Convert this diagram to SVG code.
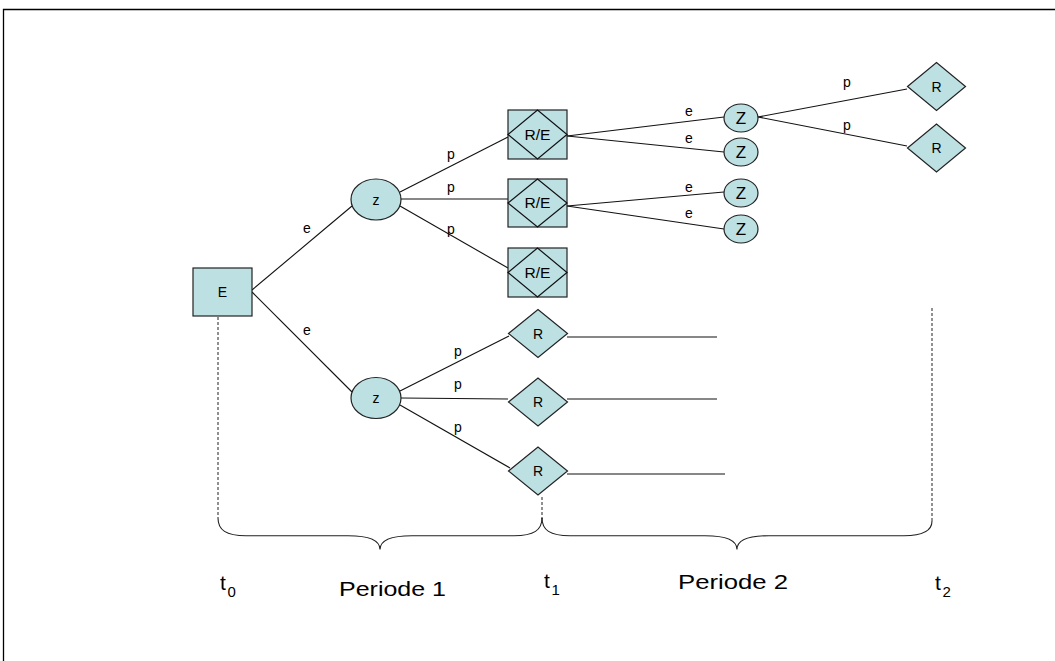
<svg xmlns="http://www.w3.org/2000/svg" width="1055" height="661" viewBox="0 0 1055 661">
  <style>
    text { font-family: "Liberation Sans", Arial, sans-serif; fill: #000; }
    .node { fill: #bde0e3; stroke: #222; stroke-width: 1.2; }
    .diam { fill: none; stroke: #111; stroke-width: 1.2; }
    .lbl { font-size: 14px; text-anchor: middle; }
    .big { font-size: 17px; text-anchor: middle; }
    .edge { font-size: 14px; text-anchor: middle; }
    .conn line { stroke: #111; stroke-width: 1.1; fill: none; }
    .dash { stroke: #222; stroke-width: 1; stroke-dasharray: 3 2; fill: none; }
    .brace { stroke: #222; stroke-width: 1.1; fill: none; }
    .axis { font-size: 21px; }
    .sub { font-size: 15px; }
  </style>

  <rect width="1055" height="661" fill="#fff"/>
  <!-- frame -->
  <path d="M3.5,661 V9.5 H1055" fill="none" stroke="#000" stroke-width="1.3"/>

  <!-- connectors -->
  <g id="connectors" class="conn">
    <line x1="252" y1="290" x2="352" y2="206"/>
    <line x1="252" y1="292" x2="352" y2="392"/>
    <line x1="400" y1="192" x2="508" y2="137"/>
    <line x1="401" y1="199" x2="508" y2="199"/>
    <line x1="400" y1="206" x2="508" y2="268"/>
    <line x1="400" y1="391" x2="509" y2="336"/>
    <line x1="401" y1="398" x2="508" y2="399"/>
    <line x1="400" y1="405" x2="510" y2="468"/>
    <line x1="567" y1="136" x2="724" y2="117"/>
    <line x1="567" y1="136" x2="724" y2="152"/>
    <line x1="567" y1="206" x2="724" y2="192"/>
    <line x1="567" y1="206" x2="724" y2="229"/>
    <line x1="758" y1="117" x2="907" y2="89"/>
    <line x1="758" y1="117" x2="907" y2="146"/>
    <line x1="567" y1="337" x2="717" y2="337"/>
    <line x1="567" y1="399" x2="717" y2="399"/>
    <line x1="567" y1="474" x2="725" y2="474"/>
  </g>

  <!-- connector labels -->
  <g id="edge-labels" class="edge">
    <text x="307" y="233">e</text>
    <text x="307" y="335">e</text>
    <text x="451" y="159">p</text>
    <text x="451" y="192">p</text>
    <text x="451" y="234">p</text>
    <text x="458" y="356">p</text>
    <text x="458" y="389">p</text>
    <text x="458" y="432">p</text>
    <text x="689" y="116">e</text>
    <text x="689" y="143">e</text>
    <text x="689" y="192">e</text>
    <text x="689" y="218">e</text>
    <text x="847" y="87">p</text>
    <text x="847" y="130">p</text>
  </g>

  <!-- root -->
  <g id="node-E">
    <rect class="node" x="193" y="268" width="59" height="48"/>
    <text class="lbl" x="222.5" y="297" font-size="15">E</text>
  </g>

  <!-- first level chance nodes -->
  <g id="node-z1">
    <ellipse class="node" cx="376" cy="199.5" rx="25" ry="20.5"/>
    <text class="lbl" x="376" y="204.5" font-size="16">z</text>
  </g>
  <g id="node-z2">
    <ellipse class="node" cx="376" cy="398" rx="25" ry="20.5"/>
    <text class="lbl" x="376" y="403" font-size="16">z</text>
  </g>

  <!-- R/E nodes -->
  <g id="node-RE1">
    <rect class="node" x="508" y="110" width="59" height="49"/>
    <polygon class="diam" points="508,134.5 537.5,110 567,134.5 537.5,159"/>
    <text class="lbl" x="537.5" y="139.5" textLength="26" lengthAdjust="spacingAndGlyphs">R/E</text>
  </g>
  <g id="node-RE2">
    <rect class="node" x="508" y="179" width="59" height="48"/>
    <polygon class="diam" points="508,203 537.5,179 567,203 537.5,227"/>
    <text class="lbl" x="537.5" y="208" textLength="26" lengthAdjust="spacingAndGlyphs">R/E</text>
  </g>
  <g id="node-RE3">
    <rect class="node" x="508" y="248" width="59" height="49"/>
    <polygon class="diam" points="508,272.5 537.5,248 567,272.5 537.5,297"/>
    <text class="lbl" x="537.5" y="277.5" textLength="26" lengthAdjust="spacingAndGlyphs">R/E</text>
  </g>

  <!-- second level chance nodes -->
  <g id="node-Z1">
    <ellipse class="node" cx="741" cy="118" rx="17" ry="14"/>
    <text class="big" x="741" y="124">Z</text>
  </g>
  <g id="node-Z2">
    <ellipse class="node" cx="741" cy="152" rx="17" ry="14"/>
    <text class="big" x="741" y="158">Z</text>
  </g>
  <g id="node-Z3">
    <ellipse class="node" cx="741" cy="193" rx="17" ry="14"/>
    <text class="big" x="741" y="199">Z</text>
  </g>
  <g id="node-Z4">
    <ellipse class="node" cx="741" cy="229" rx="17" ry="14"/>
    <text class="big" x="741" y="235">Z</text>
  </g>

  <!-- terminal R nodes, period 2 -->
  <g id="node-R-top1">
    <polygon class="node" points="907.5,86.5 936.5,62.5 965.5,86.5 936.5,110.5"/>
    <text class="lbl" x="936.5" y="91.5">R</text>
  </g>
  <g id="node-R-top2">
    <polygon class="node" points="907.5,148 936.5,124 965.5,148 936.5,172"/>
    <text class="lbl" x="936.5" y="153">R</text>
  </g>

  <!-- terminal R nodes, period 1 -->
  <g id="node-R1">
    <polygon class="node" points="508.5,333.5 538,309.5 567.5,333.5 538,357.5"/>
    <text class="lbl" x="538" y="338.5">R</text>
  </g>
  <g id="node-R2">
    <polygon class="node" points="508.5,402 538,378 567.5,402 538,426"/>
    <text class="lbl" x="538" y="407">R</text>
  </g>
  <g id="node-R3">
    <polygon class="node" points="508.5,471 538,447 567.5,471 538,495"/>
    <text class="lbl" x="538" y="476">R</text>
  </g>

  <!-- time axis -->
  <g id="timeline">
    <line class="dash" x1="218" y1="317" x2="218" y2="518"/>
    <line class="dash" x1="542" y1="497" x2="542" y2="519"/>
    <line class="dash" x1="932" y1="308" x2="932" y2="521"/>
    <path class="brace" d="M218,518 C218,530 226,535.7 246,535.7 L348,535.7 C370,535.7 380,540 380,549.5 C380,540 390,535.7 412,535.7 L514,535.7 C534,535.7 542,530 542,518"/>
    <path class="brace" d="M542,518 C542,530 550,535.7 570,535.7 L705,535.7 C727,535.7 737,540 737,549.5 C737,540 747,535.7 769,535.7 L904,535.7 C924,535.7 932,530 932,521"/>
    <text class="axis" x="220" y="590">t</text>
    <text class="sub" x="227.5" y="597">0</text>
    <text class="axis" x="339" y="596" textLength="107" lengthAdjust="spacingAndGlyphs">Periode 1</text>
    <text class="axis" x="544" y="588">t</text>
    <text class="sub" x="551.5" y="595">1</text>
    <text class="axis" x="678" y="589" textLength="110" lengthAdjust="spacingAndGlyphs">Periode 2</text>
    <text class="axis" x="935" y="590">t</text>
    <text class="sub" x="942.5" y="597">2</text>
  </g>
</svg>
